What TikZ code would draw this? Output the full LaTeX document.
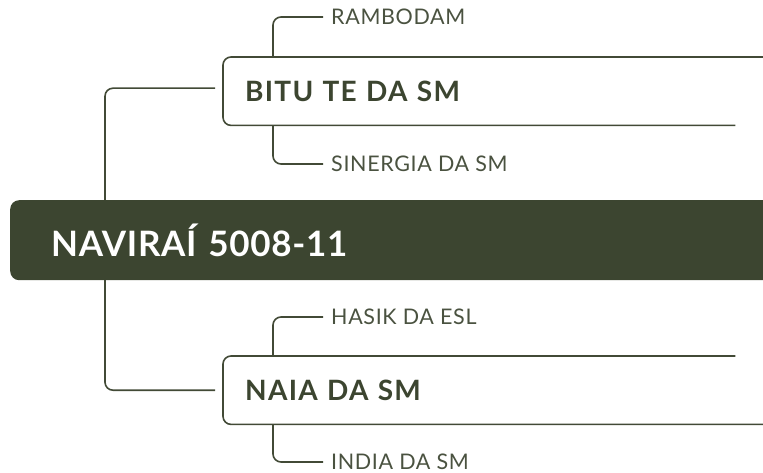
\documentclass[tikz,border=0pt]{standalone}
\usepackage{fontspec}
\setmainfont{Lato}
\usepackage{tikz}
\usetikzlibrary{positioning,calc}
\definecolor{olivedark}{RGB}{60,69,48}
\definecolor{oliveline}{RGB}{66,74,54}
\definecolor{olivetext}{RGB}{74,82,64}
\tikzset{
  rootbox/.style={
    anchor=north west,
    fill=olivedark,
    rounded corners=9pt,
    minimum height=80pt,
    text width=729pt,
    inner xsep=41pt,
    align=left,
    text=white,
    font=\bfseries\fontsize{35pt}{38pt}\selectfont\addfontfeature{LetterSpace=2}
  },
  branchbox/.style={
    anchor=north west,
    minimum height=68pt,
    text width=496pt,
    inner xsep=22pt,
    align=left,
    text=olivedark,
    font=\bfseries\fontsize{28pt}{30pt}\selectfont\addfontfeature{LetterSpace=4.5}
  },
  leaftext/.style={
    anchor=west,
    inner xsep=8pt,
    text=olivetext,
    font=\fontsize{21.5pt}{24pt}\selectfont\addfontfeature{LetterSpace=3}
  },
  frame/.style={draw=oliveline,line width=1.6pt,rounded corners=8pt},
  link/.style={draw=oliveline,line width=1.6pt,rounded corners=8pt}
}
\begin{document}
\begin{tikzpicture}[x=1pt,y=-1pt]
  \clip (0,0) rectangle (763,473);
  % branches and leaves
  \node[branchbox] (bitu) at (223,57) {BITU TE DA SM};
  \node[branchbox] (naia) at (223,356) {NAIA DA SM};
  \node[leaftext] (rambodam) at (323,17) {RAMBODAM};
  \node[leaftext] (sinergia) at (323,164) {SINERGIA DA SM};
  \node[leaftext] (hasik) at (323,317) {HASIK DA ESL};
  \node[leaftext] (india) at (323,462) {INDIA DA SM};
  \draw[frame] (bitu.north east) -- (bitu.north west) -- (bitu.south west) -- ($(bitu.south east)+(-28,0)$);
  \draw[frame] ($(naia.north east)+(-28,0)$) -- (naia.north west) -- (naia.south west) -- (naia.south east);
  \draw[link] ($(bitu.north west)+(50,0)$) |- (rambodam.west);
  \draw[link] ($(bitu.south west)+(50,0)$) |- (sinergia.west);
  \draw[link] ($(naia.north west)+(50,0)$) |- (hasik.west);
  \draw[link] ($(naia.south west)+(50,0)$) |- (india.west);
  % trunk, under the root box
  \coordinate (trunk) at (105,240);
  \draw[link] ([xshift=-8pt,yshift=3pt]bitu.west) -| (trunk) |- ([xshift=-8pt]naia.west);
  \node[rootbox] (root) at (10,200) {NAVIRAÍ 5008-11};
\end{tikzpicture}
\end{document}
